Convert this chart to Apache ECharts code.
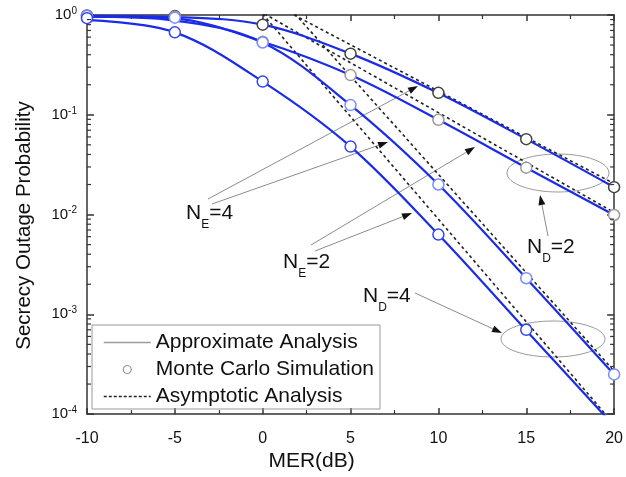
<!DOCTYPE html>
<html>
<head>
<meta charset="utf-8">
<script src="https://cdn.jsdelivr.net/npm/echarts@6/dist/echarts.min.js"></script>
<style>
  html, body { margin: 0; padding: 0; background: #fff; }
  #chart { width: 626px; height: 477px; }
</style>
</head>
<body>
<div id="chart"></div>
<script>
// MER (dB) sample points
var mer = [-10, -5, 0, 5, 10, 15, 20];

// approximate analysis (solid blue)
var approxND2NE4 = [0.98, 0.955, 0.80, 0.41, 0.165, 0.057, 0.0188];
var approxND2NE2 = [0.965, 0.92, 0.54, 0.25, 0.089, 0.0295, 0.0099];
var approxND4NE4 = [0.96, 0.88, 0.53, 0.125, 0.020, 0.0023, 0.00025];
var approxND4NE2 = [0.89, 0.67, 0.215, 0.048, 0.0063, 0.00069, 0.000076];

// monte carlo simulation (circles)
var mcND2NE4 = [0.99, 0.975, 0.80, 0.41, 0.166, 0.057, 0.0188];
var mcND2NE2 = [0.98, 0.96, 0.54, 0.25, 0.089, 0.0295, 0.0099];
var mcND4NE4 = [0.975, 0.94, 0.53, 0.125, 0.020, 0.0023, 0.00025];
var mcND4NE2 = [0.93, 0.67, 0.215, 0.048, 0.0063, 0.0007, null];

// asymptotic analysis (dashed), straight lines on the log scale
var asyMer = [-10, 20];
var asyND2NE4 = [12.4, 0.0204];
var asyND2NE2 = [10.5, 0.0105];
var asyND4NE4 = [221, 0.00027];
var asyND4NE2 = [116, 0.000079];

var xTicks = [-10, -5, 0, 5, 10, 15, 20];
var yExponents = [-4, -3, -2, -1, 0];
var minorMantissa = [2, 3, 4, 5, 6, 7, 8, 9];

var FONT = "'Liberation Sans', Arial, sans-serif";
var BLUE = '#1b2ce6';

function pairs(xs, ys) {
  return xs.map(function (x, i) { return [x, ys[i]]; });
}

function approxSeries(vals) {
  return {
    name: 'Approximate Analysis', type: 'line', smooth: 0.35,
    symbol: 'none', data: pairs(mer, vals),
    lineStyle: { color: BLUE, width: 2.2 }, itemStyle: { color: BLUE }, z: 3
  };
}
function mcSeries(vals, col) {
  return {
    name: 'Monte Carlo Simulation', type: 'scatter', symbol: 'circle', symbolSize: 11,
    data: pairs(mer, vals),
    itemStyle: { color: '#fff', borderColor: col, borderWidth: 1.5, opacity: 1 }, z: 4
  };
}
function asySeries(vals) {
  return {
    name: 'Asymptotic Analysis', type: 'line', symbol: 'none', data: pairs(asyMer, vals),
    lineStyle: { color: '#222', width: 1.6, type: [3, 3] }, itemStyle: { color: '#222' }, z: 2
  };
}

var minorY = [];
yExponents.slice(0, -1).forEach(function (e) {
  minorMantissa.forEach(function (m) { minorY.push([-10, m * Math.pow(10, e)]); });
});

function arrow(x1, y1, x2, y2) {
  var a = Math.atan2(y2 - y1, x2 - x1), L = 10, W = 3.5;
  var bx = x2 - L * Math.cos(a), by = y2 - L * Math.sin(a);
  var px = -Math.sin(a) * W, py = Math.cos(a) * W;
  return [
    { type: 'line', shape: { x1: x1, y1: y1, x2: bx, y2: by }, style: { stroke: '#8c8c8c', lineWidth: 1 } },
    { type: 'polygon', shape: { points: [[x2, y2], [bx + px, by + py], [bx - px, by - py]] }, style: { fill: '#111' } }
  ];
}
function note(x, y, sub, rest) {
  return {
    type: 'text', x: x, y: y,
    style: {
      text: '{n|N}{s|' + sub + '}{n|' + rest + '}',
      align: 'left', verticalAlign: 'middle',
      rich: {
        n: { fontSize: 21, lineHeight: 36, verticalAlign: 'middle', fontFamily: FONT, fill: '#111' },
        s: { fontSize: 12, lineHeight: 36, verticalAlign: 'bottom', fontFamily: FONT, fill: '#111' }
      }
    }
  };
}
function ellipse(cx, cy, rx, ry) {
  return { type: 'ellipse', shape: { cx: cx, cy: cy, rx: rx, ry: ry }, style: { fill: 'none', stroke: '#9a9a9a', lineWidth: 1 } };
}

var annotations = [].concat(
  arrow(208, 199, 418, 86), arrow(212, 204, 388, 142),
  arrow(311, 245, 475, 147), arrow(315, 251, 412, 213),
  arrow(548, 236, 540, 195),
  arrow(415, 293, 502, 333),
  [ellipse(558, 173, 51, 19), ellipse(553, 339, 52, 18),
   note(186, 213, 'E', '=4'), note(283, 262, 'E', '=2'),
   note(527, 247, 'D', '=2'), note(363, 296, 'D', '=4')]
);

var axisLineStyle = { color: '#333', width: 1.5 };
var hiddenDot = { color: 'rgba(0,0,0,0)', borderWidth: 0 };

var chart = echarts.init(document.getElementById('chart'));
chart.setOption({
  animation: false,
  backgroundColor: '#fff',
  grid: { left: 87, right: 5, top: 15, bottom: 53 },
  legend: {
    left: 92, top: 325, orient: 'vertical',
    borderColor: '#999', borderWidth: 1, borderRadius: 0,
    padding: [7, 6, 2, 11], itemGap: 6, itemWidth: 47, itemHeight: 8,
    selectedMode: false,
    textStyle: { fontSize: 21, lineHeight: 21, color: '#111', fontFamily: FONT },
    data: [
      { name: 'Approximate Analysis', lineStyle: { color: '#9a9a9a', width: 1.5 }, itemStyle: hiddenDot },
      { name: 'Monte Carlo Simulation', itemStyle: { color: '#fff', borderColor: '#999', borderWidth: 1.2 } },
      { name: 'Asymptotic Analysis', lineStyle: { color: '#222', width: 1.5, type: [3, 2] }, itemStyle: hiddenDot }
    ]
  },
  xAxis: [{
    type: 'value', min: -10, max: 20, interval: 5,
    name: 'MER(dB)', nameLocation: 'middle', nameGap: 36,
    nameTextStyle: { fontSize: 21, color: '#111', fontFamily: FONT, padding: [0, 78, 0, 0] },
    axisLine: { onZero: false, lineStyle: axisLineStyle },
    axisTick: { inside: true, length: 6, lineStyle: axisLineStyle },
    minorTick: { show: true, splitNumber: 2, length: 4, lineStyle: { color: '#333', width: 1.2 } },
    axisLabel: { fontSize: 16, color: '#111', margin: 16, fontFamily: FONT,
      formatter: function (v) { return xTicks.indexOf(v) >= 0 ? String(v) : ''; } },
    splitLine: { show: false }
  }, {
    type: 'value', min: -10, max: 20, interval: 5, position: 'top',
    axisLine: { onZero: false, lineStyle: axisLineStyle },
    axisTick: { inside: true, length: 6, lineStyle: axisLineStyle },
    minorTick: { show: true, splitNumber: 2, length: 4, lineStyle: { color: '#333', width: 1.2 } },
    axisLabel: { show: false }, splitLine: { show: false }
  }],
  yAxis: [{
    type: 'log', logBase: 10, min: 1e-4, max: 1,
    name: 'Secrecy Outage Probability', nameLocation: 'middle', nameGap: 52,
    nameTextStyle: { fontSize: 20.5, color: '#111', fontFamily: FONT, padding: [0, 22, 0, 0] },
    axisLine: { onZero: false, lineStyle: axisLineStyle },
    axisTick: { inside: true, length: 7, lineStyle: axisLineStyle },
    axisLabel: {
      margin: 10, fontFamily: FONT,
      formatter: function (v) {
        var e = Math.round(Math.log10(v));
        return yExponents.indexOf(e) >= 0 ? '{b|10}{s|' + e + '}' : '';
      },
      rich: {
        b: { fontSize: 15, lineHeight: 18, color: '#111', verticalAlign: 'middle', fontFamily: FONT },
        s: { fontSize: 10, lineHeight: 18, color: '#111', verticalAlign: 'top', fontFamily: FONT }
      }
    },
    splitLine: { show: false }
  }, {
    type: 'log', logBase: 10, min: 1e-4, max: 1, position: 'right',
    axisLine: { onZero: false, lineStyle: axisLineStyle },
    axisTick: { inside: true, length: 7, lineStyle: axisLineStyle },
    axisLabel: { show: false }, splitLine: { show: false }
  }],
  series: [
    asySeries(asyND2NE4), asySeries(asyND2NE2), asySeries(asyND4NE4), asySeries(asyND4NE2),
    approxSeries(approxND2NE4), approxSeries(approxND2NE2), approxSeries(approxND4NE4), approxSeries(approxND4NE2),
    mcSeries(mcND2NE4, '#444'), mcSeries(mcND2NE2, '#9a9a9a'), mcSeries(mcND4NE4, '#7d8cff'), mcSeries(mcND4NE2, '#3446f0'),
    {
      type: 'custom', silent: true, data: minorY, z: 5,
      renderItem: function (params, api) {
        var l = api.coord([-10, api.value(1)]);
        var r = api.coord([20, api.value(1)]);
        var st = { stroke: '#333', lineWidth: 1.2 };
        return { type: 'group', children: [
          { type: 'line', shape: { x1: l[0], y1: l[1], x2: l[0] + 4, y2: l[1] }, style: st },
          { type: 'line', shape: { x1: r[0] - 4, y1: r[1], x2: r[0], y2: r[1] }, style: st }
        ] };
      }
    }
  ],
  graphic: annotations
});
</script>
</body>
</html>
